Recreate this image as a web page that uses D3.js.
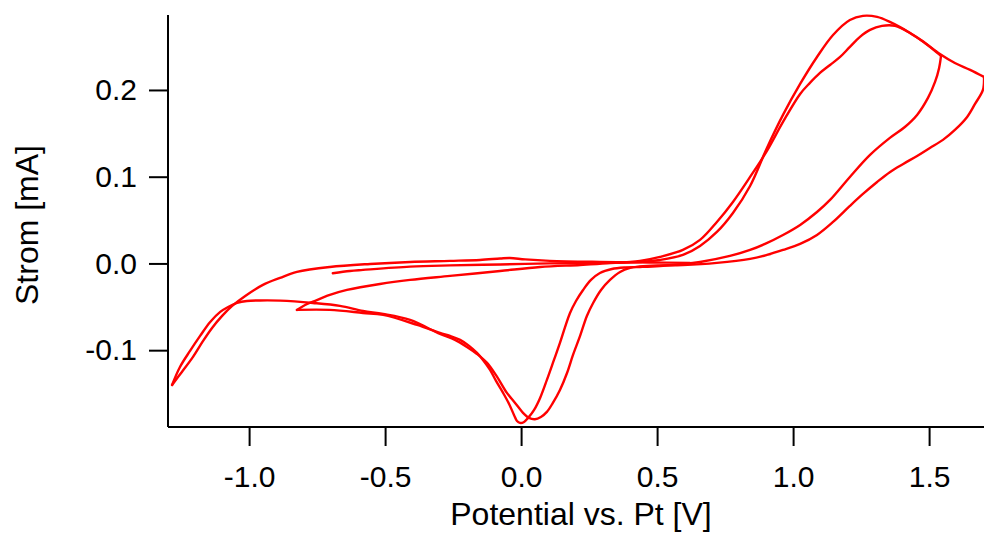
<!DOCTYPE html>
<html><head><meta charset="utf-8">
<script src="https://cdn.jsdelivr.net/npm/d3@7"></script>
<style>html,body{margin:0;padding:0;background:#fff;} svg{display:block;}</style>
</head><body><svg id="chart" width="984" height="534"></svg>
<script>
// ---- data ----
const xTicks = [-1.0, -0.5, 0.0, 0.5, 1.0, 1.5];
const yTicks = [-0.1, 0.0, 0.1, 0.2];
const xLabel = "Potential vs. Pt [V]";
const yLabel = "Strom [mA]";

// cycle 1, anodic sweep (start -0.69 V -> vertex 1.54 V)
const sweep1Potential = [-0.694,-0.631,-0.583,-0.410,-0.263,-0.079,0.104,0.288,0.435,0.509,0.593,0.656,0.718,0.777,0.840,0.902,0.961,1.024,1.086,1.145,1.207,1.255,1.307,1.354,1.428,1.483,1.542];
const sweep1Current   = [-0.0107,-0.0081,-0.0069,-0.0031,-0.0017,-0.0006,0.0006,0.0012,0.0023,0.0046,0.0104,0.0208,0.0369,0.0588,0.0899,0.1337,0.1718,0.2075,0.2386,0.2640,0.2813,0.2860,0.2848,0.2790,0.2663,0.2548,0.2398];

// cycle 1, cathodic sweep (1.54 V -> -0.83 V)
const sweep2Potential = [1.542,1.535,1.520,1.494,1.454,1.409,1.354,1.281,1.207,1.134,1.086,1.024,0.961,0.895,0.840,0.766,0.656,0.509,0.435,0.381,0.332,0.288,0.255,0.226,0.200,0.178,0.160,0.141,0.119,0.093,0.068,0.046,0.024,0.009,-0.006,-0.017,-0.028,-0.046,-0.068,-0.094,-0.116,-0.142,-0.164,-0.193,-0.226,-0.263,-0.300,-0.384,-0.509,-0.583,-0.705,-0.826];
const sweep2Current   = [0.2398,0.2260,0.2098,0.1914,0.1718,0.1579,0.1453,0.1257,0.1003,0.0738,0.0599,0.0450,0.0334,0.0231,0.0161,0.0092,0.0023,-0.0023,-0.0035,-0.0040,-0.0058,-0.0104,-0.0184,-0.0300,-0.0427,-0.0565,-0.0726,-0.0911,-0.1107,-0.1337,-0.1545,-0.1683,-0.1775,-0.1822,-0.1833,-0.1810,-0.1741,-0.1614,-0.1487,-0.1349,-0.1222,-0.1107,-0.1026,-0.0945,-0.0876,-0.0830,-0.0795,-0.0703,-0.0588,-0.0565,-0.0530,-0.0530];

// cycle 2, anodic sweep (-0.83 V -> vertex 1.70 V)
const sweep3Potential = [-0.826,-0.796,-0.767,-0.705,-0.642,-0.521,-0.410,-0.263,-0.079,0.068,0.215,0.314,0.435,0.509,0.593,0.656,0.718,0.777,0.840,0.902,0.961,1.024,1.060,1.097,1.134,1.171,1.207,1.244,1.281,1.325,1.373,1.428,1.483,1.538,1.593,1.649,1.700];
const sweep3Current   = [-0.0530,-0.0473,-0.0435,-0.0357,-0.0300,-0.0231,-0.0184,-0.0138,-0.0081,-0.0035,-0.0012,0.0006,0.0035,0.0081,0.0161,0.0277,0.0484,0.0715,0.1003,0.1303,0.1637,0.1960,0.2087,0.2202,0.2294,0.2386,0.2502,0.2617,0.2698,0.2744,0.2744,0.2663,0.2548,0.2421,0.2317,0.2237,0.2156];

// cycle 2, cathodic sweep (1.70 V -> -1.29 V)
const sweep4Potential = [1.700,1.696,1.667,1.638,1.593,1.549,1.501,1.454,1.403,1.355,1.307,1.255,1.207,1.145,1.086,1.024,0.961,0.902,0.840,0.718,0.593,0.498,0.435,0.399,0.362,0.325,0.292,0.263,0.240,0.215,0.189,0.167,0.141,0.115,0.093,0.071,0.049,0.027,0.009,-0.024,-0.054,-0.090,-0.127,-0.164,-0.201,-0.245,-0.300,-0.410,-0.509,-0.583,-0.668,-0.767,-0.888,-0.962,-1.010,-1.046,-1.079,-1.108,-1.145,-1.182,-1.219,-1.256,-1.285];
const sweep4Current   = [0.2156,0.2006,0.1845,0.1695,0.1545,0.1430,0.1337,0.1245,0.1153,0.1061,0.0945,0.0807,0.0669,0.0484,0.0334,0.0231,0.0161,0.0104,0.0058,0.0012,-0.0012,-0.0017,-0.0029,-0.0046,-0.0092,-0.0184,-0.0300,-0.0450,-0.0600,-0.0830,-0.1049,-0.1257,-0.1453,-0.1602,-0.1706,-0.1764,-0.1790,-0.1775,-0.1729,-0.1602,-0.1487,-0.1303,-0.1141,-0.1038,-0.0957,-0.0876,-0.0807,-0.0646,-0.0576,-0.0542,-0.0484,-0.0450,-0.0423,-0.0421,-0.0427,-0.0450,-0.0496,-0.0553,-0.0669,-0.0830,-0.1003,-0.1188,-0.1395];

// cycle 3, anodic sweep (-1.29 V -> end)
const sweep5Potential = [-1.285,-1.249,-1.208,-1.171,-1.138,-1.101,-1.064,-1.016,-0.951,-0.888,-0.826,-0.705,-0.557,-0.410,-0.263,-0.153,-0.079,-0.043,0.013,0.104,0.288,0.472,0.619];
const sweep5Current   = [-0.1395,-0.1245,-0.1072,-0.0888,-0.0738,-0.0599,-0.0484,-0.0369,-0.0242,-0.0161,-0.0092,-0.0035,0.0000,0.0023,0.0035,0.0046,0.0063,0.0069,0.0052,0.0035,0.0023,0.0017,0.0012];

const sweeps = [
  [sweep1Potential, sweep1Current],
  [sweep2Potential, sweep2Current],
  [sweep3Potential, sweep3Current],
  [sweep4Potential, sweep4Current],
  [sweep5Potential, sweep5Current]
];

// ---- layout ----
const FONT = '"Liberation Sans", Arial, Helvetica, sans-serif';
const svg = d3.select("#chart");
const x = d3.scaleLinear().domain([-1.30, 1.70]).range([168, 984]);
const y = d3.scaleLinear().domain([-0.188, 0.287]).range([427, 15]);

const line = d3.line()
  .x(d => x(d[0]))
  .y(d => y(d[1]))
  .curve(d3.curveCatmullRom.alpha(0.5));

svg.append("g").selectAll("path")
  .data(sweeps.map(([v, i]) => v.map((vv, k) => [vv, i[k]])))
  .join("path")
  .attr("d", line)
  .attr("fill", "none")
  .attr("stroke", "#ff0000")
  .attr("stroke-width", 2.4)
  .attr("stroke-linejoin", "round")
  .attr("stroke-linecap", "round");

const xAxis = d3.axisBottom(x).tickValues(xTicks).tickFormat(d => d.toFixed(1))
  .tickSize(19).tickSizeOuter(0).tickPadding(20).offset(0);
const yAxis = d3.axisLeft(y).tickValues(yTicks).tickFormat(d => d.toFixed(1))
  .tickSize(19).tickSizeOuter(0).tickPadding(12).offset(0);

const gx = svg.append("g").attr("transform", "translate(0,427)").call(xAxis);
const gy = svg.append("g").attr("transform", "translate(168,0)").call(yAxis);
[gx, gy].forEach(g => {
  g.attr("font-family", FONT).attr("font-size", 30);
  g.select(".domain").attr("stroke", "#000").attr("stroke-width", 2);
  g.selectAll(".tick line").attr("stroke", "#000").attr("stroke-width", 2);
  g.selectAll(".tick text").attr("fill", "#000");
});

svg.append("text")
  .attr("x", 581).attr("y", 525)
  .attr("text-anchor", "middle")
  .attr("font-family", FONT).attr("font-size", 32).attr("fill", "#000")
  .text(xLabel);

svg.append("text")
  .attr("transform", "translate(38,225) rotate(-90)")
  .attr("text-anchor", "middle")
  .attr("font-family", FONT).attr("font-size", 32).attr("fill", "#000")
  .text(yLabel);
</script>
</body></html>
